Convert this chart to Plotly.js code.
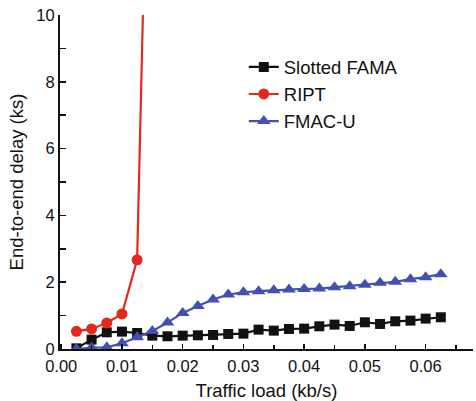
<!DOCTYPE html>
<html>
<head>
<meta charset="utf-8">
<script src="https://cdn.plot.ly/plotly-3.0.1.min.js"></script>
<style>html,body{margin:0;padding:0;background:#fff;}#chart{width:476px;height:401px;}</style>
</head>
<body>
<div id="chart"></div>
<script>
// Traffic load (kb/s)
const loadFama = [0.0025,0.005,0.0075,0.01,0.0125,0.015,0.0175,0.02,0.0225,0.025,0.0275,0.03,0.0325,0.035,0.0375,0.04,0.0425,0.045,0.0475,0.05,0.0525,0.055,0.0575,0.06,0.0625];
const delayFama = [0.02,0.28,0.50,0.52,0.48,0.40,0.38,0.40,0.41,0.42,0.45,0.46,0.58,0.55,0.60,0.61,0.68,0.73,0.69,0.80,0.75,0.83,0.85,0.91,0.95];
const loadRipt = [0.0025,0.005,0.0075,0.01,0.0125,0.015];
const delayRipt = [0.53,0.60,0.78,1.05,2.67,22];
const loadFmac = [0.0025,0.005,0.0075,0.01,0.0125,0.015,0.0175,0.02,0.0225,0.025,0.0275,0.03,0.0325,0.035,0.0375,0.04,0.0425,0.045,0.0475,0.05,0.0525,0.055,0.0575,0.06,0.0625];
const delayFmac = [0.0,0.04,0.05,0.17,0.35,0.54,0.79,1.08,1.29,1.48,1.63,1.70,1.73,1.76,1.78,1.80,1.81,1.85,1.88,1.92,1.98,2.01,2.09,2.15,2.24];
const seriesNames = ["Slotted FAMA","RIPT","FMAC-U"];
const xTitle = "Traffic load (kb/s)";
const yTitle = "End-to-end delay (ks)";

const FONT = "Liberation Sans, Arial, Helvetica, sans-serif";
const traces = [
  {x: loadFama, y: delayFama, name: seriesNames[0], mode: "lines+markers",
   line: {color: "#111111", width: 2.2}, marker: {symbol: "square", size: 10, color: "#111111"}},
  {x: loadRipt, y: delayRipt, name: seriesNames[1], mode: "lines+markers",
   line: {color: "#e3291d", width: 2.2}, marker: {symbol: "circle", size: 11, color: "#e3291d"}},
  {x: loadFmac, y: delayFmac, name: seriesNames[2], mode: "lines+markers",
   line: {color: "#4250b2", width: 2.2}, marker: {symbol: "triangle-up", size: 12, color: "#4250b2"}}
];
const layout = {
  width: 476, height: 401,
  margin: {l: 60, r: 3, t: 15, b: 52},
  paper_bgcolor: "#fff", plot_bgcolor: "#fff",
  font: {family: FONT, color: "#111", size: 16.5},
  showlegend: true,
  legend: {x: 0.445, y: 0.9, xanchor: "left", yanchor: "top", bgcolor: "rgba(0,0,0,0)",
           font: {family: FONT, size: 18.5, color: "#111"}, tracegroupgap: 0},
  xaxis: {range: [-0.0002, 0.0678], showline: true, linecolor: "#111", linewidth: 2,
          showgrid: false, zeroline: false, dtick: 0.01, tick0: 0, tickformat: ".2f",
          ticks: "inside", ticklen: 5, tickwidth: 1.5, tickcolor: "#111", ticklabelstandoff: 1,
          minor: {dtick: 0.005, tick0: 0, ticks: "inside", ticklen: 4, tickwidth: 1.5, tickcolor: "#111", showgrid: false},
          tickfont: {size: 16.5}, title: {text: xTitle, font: {size: 18.5}, standoff: 10}},
  yaxis: {range: [0, 10], showline: true, linecolor: "#111", linewidth: 2,
          showgrid: false, zeroline: false, dtick: 2, tick0: 0,
          ticks: "inside", ticklen: 6, tickwidth: 1.5, tickcolor: "#111",
          minor: {dtick: 1, tick0: 0, ticks: "inside", ticklen: 6, tickwidth: 1.5, tickcolor: "#111", showgrid: false},
          tickfont: {size: 16.5}, title: {text: yTitle, font: {size: 18.5}, standoff: 8}}
};
Plotly.newPlot("chart", traces, layout, {displayModeBar: false, staticPlot: true});
</script>
</body>
</html>
